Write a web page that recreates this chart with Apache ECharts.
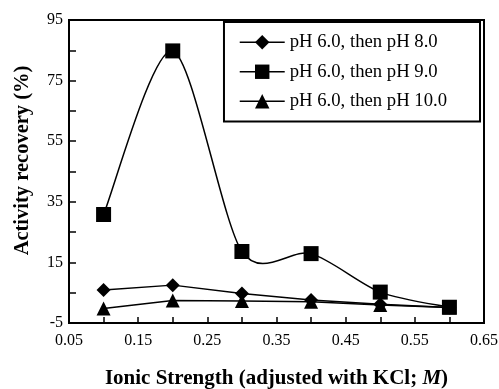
<!DOCTYPE html>
<html>
<head>
<meta charset="utf-8">
<script src="https://cdn.jsdelivr.net/npm/echarts@6/dist/echarts.min.js"></script>
<style>html,body{margin:0;padding:0;background:#fff;}#c{width:499px;height:389px;}</style>
</head>
<body>
<div id="c"></div>
<script>
const ionicStrength = [0.1, 0.2, 0.3, 0.4, 0.5, 0.6];
const seriesNames = ['pH 6.0, then pH 8.0', 'pH 6.0, then pH 9.0', 'pH 6.0, then pH 10.0'];
const ph8 = [5.9, 7.5, 4.7, 2.6, 1.2, 0.1];
const ph9 = [30.8, 84.8, 18.6, 17.9, 5.2, 0.2];
const ph10 = [-0.2, 2.4, 2.3, 2.0, 0.9, 0.1];
const xTicks = [0.05, 0.1, 0.15, 0.2, 0.25, 0.3, 0.35, 0.4, 0.45, 0.5, 0.55, 0.6, 0.65];
const xTickLabels = [0.05, 0.15, 0.25, 0.35, 0.45, 0.55, 0.65];
const yTicks = [-5, 5, 15, 25, 35, 45, 55, 65, 75, 85, 95];
const yTickLabels = [-5, 15, 35, 55, 75, 95];

const serif = 'Liberation Serif';
const chart = echarts.init(document.getElementById('c'), null, {renderer: 'canvas'});
function pairs(vals) { return ionicStrength.map((x, i) => [x, vals[i]]); }

// cardinal spline through the data points (in pixel space, via the axis scales)
function splineRenderer(xs, ys, tension) {
  return function (params, api) {
    if (params.dataIndex !== 0) return null;
    const p = xs.map((x, i) => api.coord([x, ys[i]]));
    const n = p.length;
    const children = [];
    for (let i = 0; i < n - 1; i++) {
      const p0 = p[Math.max(i - 1, 0)], p1 = p[i], p2 = p[i + 1], p3 = p[Math.min(i + 2, n - 1)];
      children.push({
        type: 'bezierCurve',
        shape: {
          x1: p1[0], y1: p1[1], x2: p2[0], y2: p2[1],
          cpx1: p1[0] + (p2[0] - p0[0]) * tension / 6,
          cpy1: p1[1] + (p2[1] - p0[1]) * tension / 6,
          cpx2: p2[0] - (p3[0] - p1[0]) * tension / 6,
          cpy2: p2[1] - (p3[1] - p1[1]) * tension / 6
        },
        style: {stroke: '#000', lineWidth: 1.5, fill: null}
      });
    }
    return {type: 'group', children: children};
  };
}

const lineBase = {
  type: 'line',
  lineStyle: {color: '#000', width: 1.5},
  itemStyle: {color: '#000'},
  symbolKeepAspect: true,
  z: 3
};
chart.setOption({
  animation: false,
  backgroundColor: '#fff',
  grid: {left: 69, right: 15, top: 20, bottom: 66, outerBoundsMode: 'none', containLabel: false,
    show: true, borderColor: '#000', borderWidth: 2, backgroundColor: 'transparent'},
  legend: {
    data: seriesNames,
    orient: 'vertical',
    right: 19, top: 22,
    itemWidth: 45, itemHeight: 18, itemGap: 9,
    padding: [10, 33, 10, 15],
    borderColor: '#000', borderWidth: 2, backgroundColor: '#fff',
    lineStyle: {color: '#000', width: 1.5, opacity: 1},
    textStyle: {fontFamily: serif, fontSize: 18.7, lineHeight: 20.5, color: '#000'}
  },
  xAxis: {
    type: 'value', min: 0.05, max: 0.65,
    name: '{b|Ionic Strength (adjusted with KCl; }{i|M}{b|)}',
    nameLocation: 'middle', nameGap: 45,
    nameTextStyle: {rich: {
      b: {fontFamily: serif, fontSize: 21, fontWeight: 'bold', color: '#000'},
      i: {fontFamily: serif, fontSize: 21, fontWeight: 'bold', fontStyle: 'italic', color: '#000'}
    }},
    axisLine: {onZero: false, lineStyle: {color: '#000', width: 2}},
    axisTick: {inside: true, length: 6, customValues: xTicks, lineStyle: {color: '#000', width: 1.5}},
    axisLabel: {customValues: xTickLabels, formatter: v => v.toFixed(2), fontFamily: serif, fontSize: 16, color: '#000', margin: 10},
    splitLine: {show: false}
  },
  yAxis: {
    type: 'value', min: -5, max: 95,
    name: 'Activity recovery (%)',
    nameLocation: 'middle', nameGap: 36,
    nameTextStyle: {fontFamily: serif, fontSize: 20.5, fontWeight: 'bold', color: '#000', padding: [0, 0, 0, 22]},
    axisLine: {onZero: false, lineStyle: {color: '#000', width: 2}},
    axisTick: {inside: true, length: 7, customValues: yTicks, lineStyle: {color: '#000', width: 1.5}},
    axisLabel: {customValues: yTickLabels, fontFamily: serif, fontSize: 16, color: '#000', margin: 6},
    splitLine: {show: false}
  },
  series: [
    Object.assign({}, lineBase, {name: seriesNames[0], data: pairs(ph8), symbol: 'diamond', symbolSize: 14}),
    Object.assign({}, lineBase, {name: seriesNames[1], data: pairs(ph9), symbol: 'rect', symbolSize: 15,
      lineStyle: {color: '#000', width: 1.5, opacity: 0}}),
    Object.assign({}, lineBase, {name: seriesNames[2], data: pairs(ph10), symbol: 'triangle', symbolSize: 14}),
    {type: 'custom', name: 'ph9-curve', silent: true, z: 2, data: pairs(ph9),
      renderItem: splineRenderer(ionicStrength, ph9, 0.85)}
  ]
});
</script>
</body>
</html>
